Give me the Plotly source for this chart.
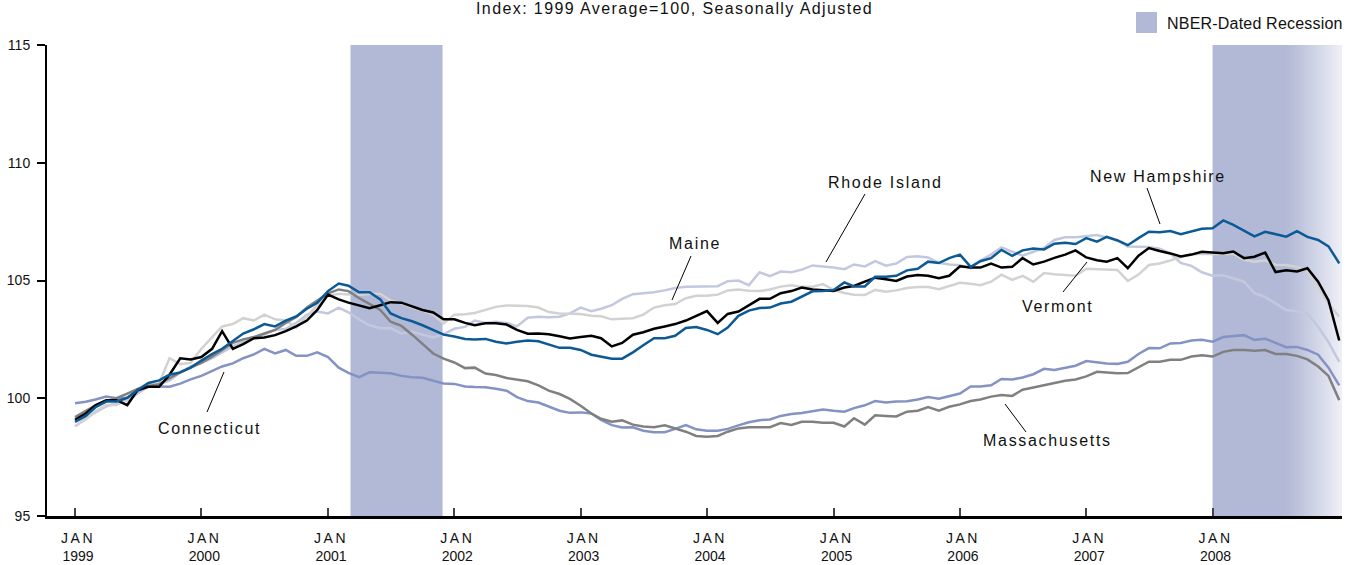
import pandas as pd
import plotly.graph_objects as go

# ---------------- data (monthly index, 1999 avg = 100) ----------------
dates = pd.date_range("1999-01-01", "2009-01-01", freq="MS")

connecticut = [
    99.79, 99.85, 99.95, 100.07, 100.0, 100.02, 100.3, 100.5, 100.5, 100.49, 100.62, 100.8,
    100.95, 101.15, 101.35, 101.48, 101.7, 101.86, 102.1, 101.9, 102.05, 101.8, 101.8, 101.95,
    101.75, 101.3, 101.08, 100.9, 101.1, 101.08, 101.06, 100.95, 100.89, 100.87, 100.75, 100.63,
    100.61, 100.5, 100.48, 100.47, 100.4, 100.32, 100.05, 99.88, 99.82, 99.65, 99.47, 99.38,
    99.4, 99.35, 99.08, 98.86, 98.76, 98.77, 98.62, 98.56, 98.56, 98.7, 98.86, 98.68,
    98.62, 98.62, 98.7, 98.85, 98.98, 99.07, 99.1, 99.25, 99.33, 99.37, 99.45, 99.52,
    99.47, 99.43, 99.58, 99.7, 99.88, 99.82, 99.86, 99.87, 99.95, 100.05, 99.98, 100.1,
    100.2, 100.5, 100.5, 100.55, 100.82, 100.8, 100.88, 101.02, 101.25, 101.2, 101.28, 101.38,
    101.58, 101.52, 101.48, 101.46, 101.55, 101.88, 102.13, 102.12, 102.33, 102.35, 102.45, 102.48,
    102.4, 102.6, 102.64, 102.68, 102.48, 102.53, 102.35, 102.17, 102.18, 102.05, 101.85, 101.3,
    100.55,
]

maine = [
    98.82, 99.1, 99.45, 99.71, 99.71, 99.95, 100.4, 100.6, 100.63, 101.7, 101.45, 101.5,
    102.1, 102.6, 103.05, 103.15, 103.4, 103.3, 103.55, 103.35, 103.3, 103.0, 103.5, 103.95,
    104.35, 104.44, 104.41, 104.38, 104.44, 104.44, 104.15, 104.03, 103.85, 103.72, 103.55, 103.18,
    103.55, 103.57, 103.62, 103.75, 103.88, 103.94, 103.93, 103.92, 103.85, 103.66, 103.6, 103.58,
    103.58, 103.5, 103.48, 103.35, 103.38, 103.4, 103.55, 103.85, 103.95, 104.0, 104.25, 104.35,
    104.35, 104.4, 104.58, 104.62, 104.57, 104.55, 104.62, 104.74, 104.8, 104.73, 104.73, 104.85,
    104.6, 104.47, 104.4, 104.38, 104.6, 104.52, 104.58, 104.68, 104.72, 104.72, 104.63, 104.75,
    104.9, 104.86, 104.8, 104.95, 105.25, 105.03, 105.2, 104.95, 105.32, 105.27, 105.22, 105.2,
    105.5, 105.48, 105.46, 105.45, 104.98, 105.25, 105.66, 105.72, 105.85, 106.0, 106.1, 106.14,
    106.13, 106.13, 106.13, 105.88, 105.8, 105.86, 105.67, 105.66, 105.58, 105.4, 104.72, 104.0,
    103.47,
]

massachusetts = [
    99.2, 99.45, 99.7, 99.87, 100.0, 100.2, 100.4, 100.52, 100.6, 100.85, 101.1, 101.3,
    101.5, 101.77, 102.05, 102.35, 102.5, 102.6, 102.75, 102.9, 103.2, 103.45, 103.85, 104.15,
    104.45, 104.62, 104.55, 104.25, 104.0, 103.75, 103.25, 103.07, 102.7, 102.3, 101.9, 101.68,
    101.52, 101.28, 101.3, 101.05, 100.99, 100.86, 100.8, 100.72, 100.55, 100.32, 100.18, 99.97,
    99.68, 99.35, 99.13, 99.0, 99.06, 98.88, 98.8, 98.77, 98.85, 98.73, 98.58, 98.4,
    98.36, 98.4, 98.58, 98.72, 98.77, 98.77, 98.77, 98.95, 98.87, 99.0, 99.0, 98.96,
    98.96, 98.8, 99.15, 98.88, 99.28, 99.25, 99.23, 99.43, 99.47, 99.63, 99.47, 99.64,
    99.74, 99.88, 99.95, 100.07, 100.14, 100.1, 100.36, 100.46, 100.56, 100.63, 100.74, 100.8,
    100.93, 101.12, 101.08, 101.06, 101.07, 101.3, 101.55, 101.55, 101.63, 101.63, 101.77, 101.83,
    101.77, 101.97, 102.05, 102.05, 102.02, 102.05, 101.88, 101.88, 101.8, 101.65, 101.35, 100.95,
    99.92,
]

new_hampshire = [
    99.0, 99.25, 99.62, 99.86, 99.86, 100.02, 100.35, 100.65, 100.76, 101.0, 101.1, 101.3,
    101.6, 101.88, 102.1, 102.45, 102.75, 102.93, 103.15, 103.05, 103.3, 103.47, 103.8, 104.05,
    104.55, 104.87, 104.78, 104.5, 104.5, 104.2, 103.6, 103.4, 103.27, 103.1, 102.9, 102.7,
    102.62, 102.52, 102.5, 102.52, 102.4, 102.33, 102.4, 102.45, 102.42, 102.28, 102.14, 102.14,
    102.05, 101.85, 101.76, 101.68, 101.68, 101.95, 102.25, 102.55, 102.55, 102.65, 102.98, 103.02,
    102.9, 102.72, 103.0, 103.5, 103.72, 103.83, 103.85, 104.02, 104.1, 104.3, 104.54, 104.55,
    104.6, 104.92, 104.75, 104.75, 105.16, 105.16, 105.2, 105.43, 105.5, 105.8, 105.74, 105.95,
    106.1, 105.58, 105.82, 105.95, 106.3, 106.05, 106.28, 106.36, 106.32, 106.56, 106.6, 106.55,
    106.8, 106.65, 106.85, 106.7, 106.5, 106.8, 107.07, 107.05, 107.1, 106.97, 107.1, 107.2,
    107.22, 107.55, 107.36, 107.12, 106.87, 107.07, 106.97, 106.86, 107.1, 106.85, 106.72, 106.45,
    105.73,
]

rhode_island = [
    98.8, 99.15, 99.4, 99.65, 99.8, 99.9, 100.2, 100.5, 100.6, 100.75, 101.1, 101.35,
    101.5, 101.7, 101.95, 102.2, 102.4, 102.55, 102.7, 102.9, 102.95, 103.2, 103.55, 103.68,
    103.6, 103.85, 103.65, 103.35, 103.1, 102.97, 102.97, 102.75, 102.82, 102.7, 102.58, 102.72,
    102.95, 103.03, 103.3, 103.2, 103.25, 103.2, 103.05, 103.42, 103.46, 103.44, 103.46, 103.6,
    103.85, 103.7, 103.8, 103.95, 104.22, 104.42, 104.46, 104.5, 104.58, 104.68, 104.73, 104.74,
    104.74, 104.76, 104.97, 105.0, 104.8, 105.35, 105.18, 105.38, 105.35, 105.46, 105.64, 105.6,
    105.55, 105.48, 105.68, 105.6, 105.82, 105.63, 105.72, 106.0, 106.03, 105.98, 105.75, 105.68,
    105.65, 105.52, 105.85, 106.1, 106.4, 106.22, 106.05, 106.22, 106.38, 106.72, 106.84, 106.84,
    106.89, 106.93, 106.83, 106.72, 106.44, 106.44, 106.42, 106.35, 106.15, 105.75, 105.62, 105.35,
    105.2, 105.22, 105.08, 104.95, 104.46, 104.3, 104.03, 103.75, 103.68, 103.6, 103.04, 102.38,
    101.55,
]

vermont = [
    99.08, 99.35, 99.7, 99.92, 99.92, 99.71, 100.35, 100.49, 100.49, 101.0, 101.7, 101.65,
    101.75, 102.1, 102.85, 102.1, 102.3, 102.55, 102.58, 102.68, 102.85, 103.05, 103.3, 103.75,
    104.4, 104.2, 104.06, 103.95, 103.82, 103.95, 104.08, 104.06, 103.9, 103.75, 103.64, 103.35,
    103.35, 103.2, 103.1, 103.18, 103.18, 103.13, 102.9, 102.74, 102.75, 102.72, 102.63, 102.54,
    102.6, 102.65, 102.55, 102.2, 102.35, 102.7, 102.8, 102.95, 103.05, 103.15, 103.3, 103.5,
    103.7, 103.2, 103.58, 103.68, 103.95, 104.22, 104.22, 104.46, 104.55, 104.7, 104.62, 104.58,
    104.55, 104.7, 104.77, 104.95, 105.12, 105.05, 104.98, 105.17, 105.23, 105.2, 105.1, 105.2,
    105.6, 105.55, 105.55, 105.72, 105.55, 105.58, 105.95, 105.68, 105.8, 105.96, 106.1, 106.28,
    105.98, 105.86, 105.8, 105.95, 105.52, 106.05, 106.38, 106.25, 106.15, 106.02, 106.1, 106.22,
    106.19, 106.16, 106.23, 105.95, 106.01, 106.19, 105.36, 105.43, 105.38, 105.52, 104.95, 104.15,
    102.45,
]

recession_1 = ("2001-03-07", "2001-11-28")
recession_2 = ("2008-01-01", "2009-01-09")
tick_years = [1999, 2000, 2001, 2002, 2003, 2004, 2005, 2006, 2007, 2008]
y_ticks = [95, 100, 105, 110, 115]

# ---------------- styling ----------------
FONT = "Liberation Sans, Arial, sans-serif"
REC = "#b2b9d6"
W, H = 1355, 565
PL, PR, PT, PB = 47, 1342, 45, 516   # plot area in page pixels
L, T, R, B = PL, PT, W - PR, H - PB
PW, PH = PR - PL, PB - PT


def px(xp):
    return (xp - PL) / PW


def py(yp):
    return (PB - yp) / PH


def spaced(text, sp):
    return '<span style="letter-spacing:%spx">%s</span>' % (sp, text)


fig = go.Figure()

series = [
    ("Rhode Island", rhode_island, "#c3c8df"),
    ("Maine", maine, "#d2d2d2"),
    ("Connecticut", connecticut, "#8492c4"),
    ("Massachusetts", massachusetts, "#808080"),
    ("Vermont", vermont, "#000000"),
    ("New Hampshire", new_hampshire, "#0c5a95"),
]
for name, vals, col in series:
    fig.add_trace(go.Scatter(x=dates, y=vals, mode="lines", name=name,
                             line=dict(color=col, width=2.5), showlegend=False,
                             hoverinfo="skip"))

shapes = []
shapes.append(dict(type="rect", xref="x", yref="paper", x0=recession_1[0], x1=recession_1[1],
                   y0=0, y1=1, fillcolor=REC, line=dict(width=0), layer="below"))
r2s = pd.Timestamp(recession_2[0])
r2e = pd.Timestamp(recession_2[1])
fade_start = r2s + (r2e - r2s) * 0.55
shapes.append(dict(type="rect", xref="x", yref="paper", x0=r2s, x1=r2e,
                   y0=0, y1=1, fillcolor=REC, line=dict(width=0), layer="below"))
n = 40
c0 = (0xb2, 0xb9, 0xd6)
c1 = (0xf0, 0xf1, 0xf7)
for i in range(n):
    a = fade_start + (r2e - fade_start) * (i / n)
    t = ((i + 0.5) / n) ** 1.2
    col = "rgb(%d,%d,%d)" % tuple(round(c0[k] + (c1[k] - c0[k]) * t) for k in range(3))
    shapes.append(dict(type="rect", xref="x", yref="paper", x0=a, x1=r2e,
                       y0=0, y1=1, fillcolor=col, line=dict(width=0), layer="below"))

# legend swatch
shapes.append(dict(type="rect", xref="paper", yref="paper", x0=px(1136), x1=px(1157),
                   y0=py(33), y1=py(12), fillcolor=REC, line=dict(width=0)))

pointers = [
    ((207, 412), (224, 372)),    # Connecticut
    ((691, 256), (672, 300)),    # Maine
    ((865, 194), (826, 262)),    # Rhode Island
    ((1147, 188), (1160, 224)),  # New Hampshire
    ((1063, 292), (1087, 262)),  # Vermont
    ((1026, 432), (1005, 404)),  # Massachusetts
]
for (xa, ya), (xb, yb) in pointers:
    shapes.append(dict(type="line", xref="paper", yref="paper", x0=px(xa), y0=py(ya),
                       x1=px(xb), y1=py(yb), line=dict(color="#000", width=1)))

annotations = []
labels = [
    ("Connecticut", 209.5, 428),
    ("Maine", 695, 243),
    ("Rhode Island", 885.5, 182),
    ("New Hampshire", 1157.5, 176),
    ("Vermont", 1058, 306.5),
    ("Massachusetts", 1047.5, 440.5),
]
for text, xc, yc in labels:
    annotations.append(dict(xref="paper", yref="paper", x=px(xc), y=py(yc), text=spaced(text, 1.7),
                            showarrow=False, xanchor="center", yanchor="middle",
                            font=dict(family=FONT, size=16, color="#111")))

annotations.append(dict(xref="paper", yref="paper", x=px(674.5), y=py(8.5),
                        text=spaced("Index: 1999 Average=100, Seasonally Adjusted", 1.4),
                        showarrow=False, xanchor="center", yanchor="middle",
                        font=dict(family=FONT, size=16, color="#111")))
annotations.append(dict(xref="paper", yref="paper", x=px(1165), y=py(23),
                        text=spaced("NBER-Dated Recession", 0.2),
                        showarrow=False, xanchor="left", yanchor="middle",
                        font=dict(family=FONT, size=16, color="#111")))

fig.update_layout(
    width=W, height=H,
    margin=dict(l=L, r=R, t=T, b=B, pad=0, autoexpand=False),
    paper_bgcolor="white", plot_bgcolor="white",
    showlegend=False,
    hovermode=False,
    shapes=shapes,
    annotations=annotations,
    font=dict(family=FONT, size=14, color="#111"),
)

fig.update_xaxes(
    type="date",
    range=["1998-10-12", "2009-01-09"],
    tickvals=[pd.Timestamp(year=y, month=1, day=1) for y in tick_years],
    ticktext=[spaced("JAN", 2.5) + "<br>" + str(y) for y in tick_years],
    ticks="inside", ticklen=8, tickwidth=1.5, tickcolor="#444",
    showline=True, linecolor="#000", linewidth=2.5,
    showgrid=False, zeroline=False, automargin=False,
    tickfont=dict(family=FONT, size=14, color="#111"),
    ticklabelstandoff=7, ticklabelshift=3,
)
fig.update_yaxes(
    range=[95, 115],
    tickvals=y_ticks,
    ticks="outside", ticklen=8, tickwidth=1.5, tickcolor="#000",
    showline=True, linecolor="#000", linewidth=2,
    showgrid=False, zeroline=False, automargin=False,
    tickfont=dict(family=FONT, size=14, color="#111"),
    ticklabelstandoff=4,
)

fig.write_html("out.html", config={"displayModeBar": False},
               post_script="document.body.style.margin='0';document.body.style.overflow='hidden';")
